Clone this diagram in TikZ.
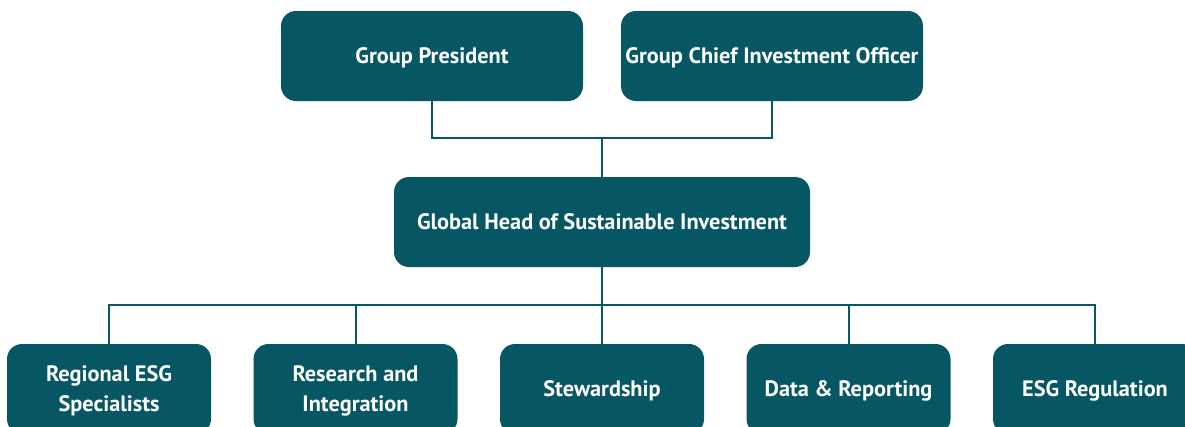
\documentclass[tikz,border=0pt]{standalone}
\usepackage{fontspec}
\setmainfont{PT Sans}
\usetikzlibrary{positioning}

\definecolor{teal}{HTML}{065763}

\begin{document}
\begin{tikzpicture}[%
			x=1pt,
			y=-1pt,
			line width=2pt,
			font=\fontsize{22.3}{30}\selectfont\bfseries,
			unit/.style={%
				rectangle,
				rounded corners=15pt,
				fill=teal,
				text=white,
				minimum height=90pt,
				align=center,
				text depth=0pt,
				inner sep=2pt,
				outer sep=0pt
			},
			top/.style={unit, minimum width=302pt},
			team/.style={unit, minimum width=204pt},
			link/.style={draw=teal}
			]
			\useasboundingbox (0,0) rectangle (1185,426);
			\node[top] (1) at (432,56) {Group President};
			\node[top] (2) [right=38pt of 1] {Group Chief Investment Officer};
			\node[unit, minimum width=416pt] (3) at (602,222) {Global Head of Sustainable Investment};
			\node[team] (4) at (109,389) {Regional ESG\\Specialists};
			\node[team] (5) [right=42.5pt of 4] {Research and\\Integration};
			\node[team] (6) [right=42.5pt of 5] {Stewardship};
			\node[team] (7) [right=42.5pt of 6] {Data \& Reporting};
			\node[team] (8) [right=42.5pt of 7] {ESG Regulation};

			\coordinate (j1) at (602,138);
			\coordinate (j2) at (602,305);
			\draw[link] (1.south) |- (j1) -| (2.south);
			\draw[link] (j1) -- (3.north);
			\draw[link] (3.south) -- (j2);
			\foreach \n in {4,...,8}
				\draw[link] (j2) -| (\n.north);
\end{tikzpicture}
\end{document}
